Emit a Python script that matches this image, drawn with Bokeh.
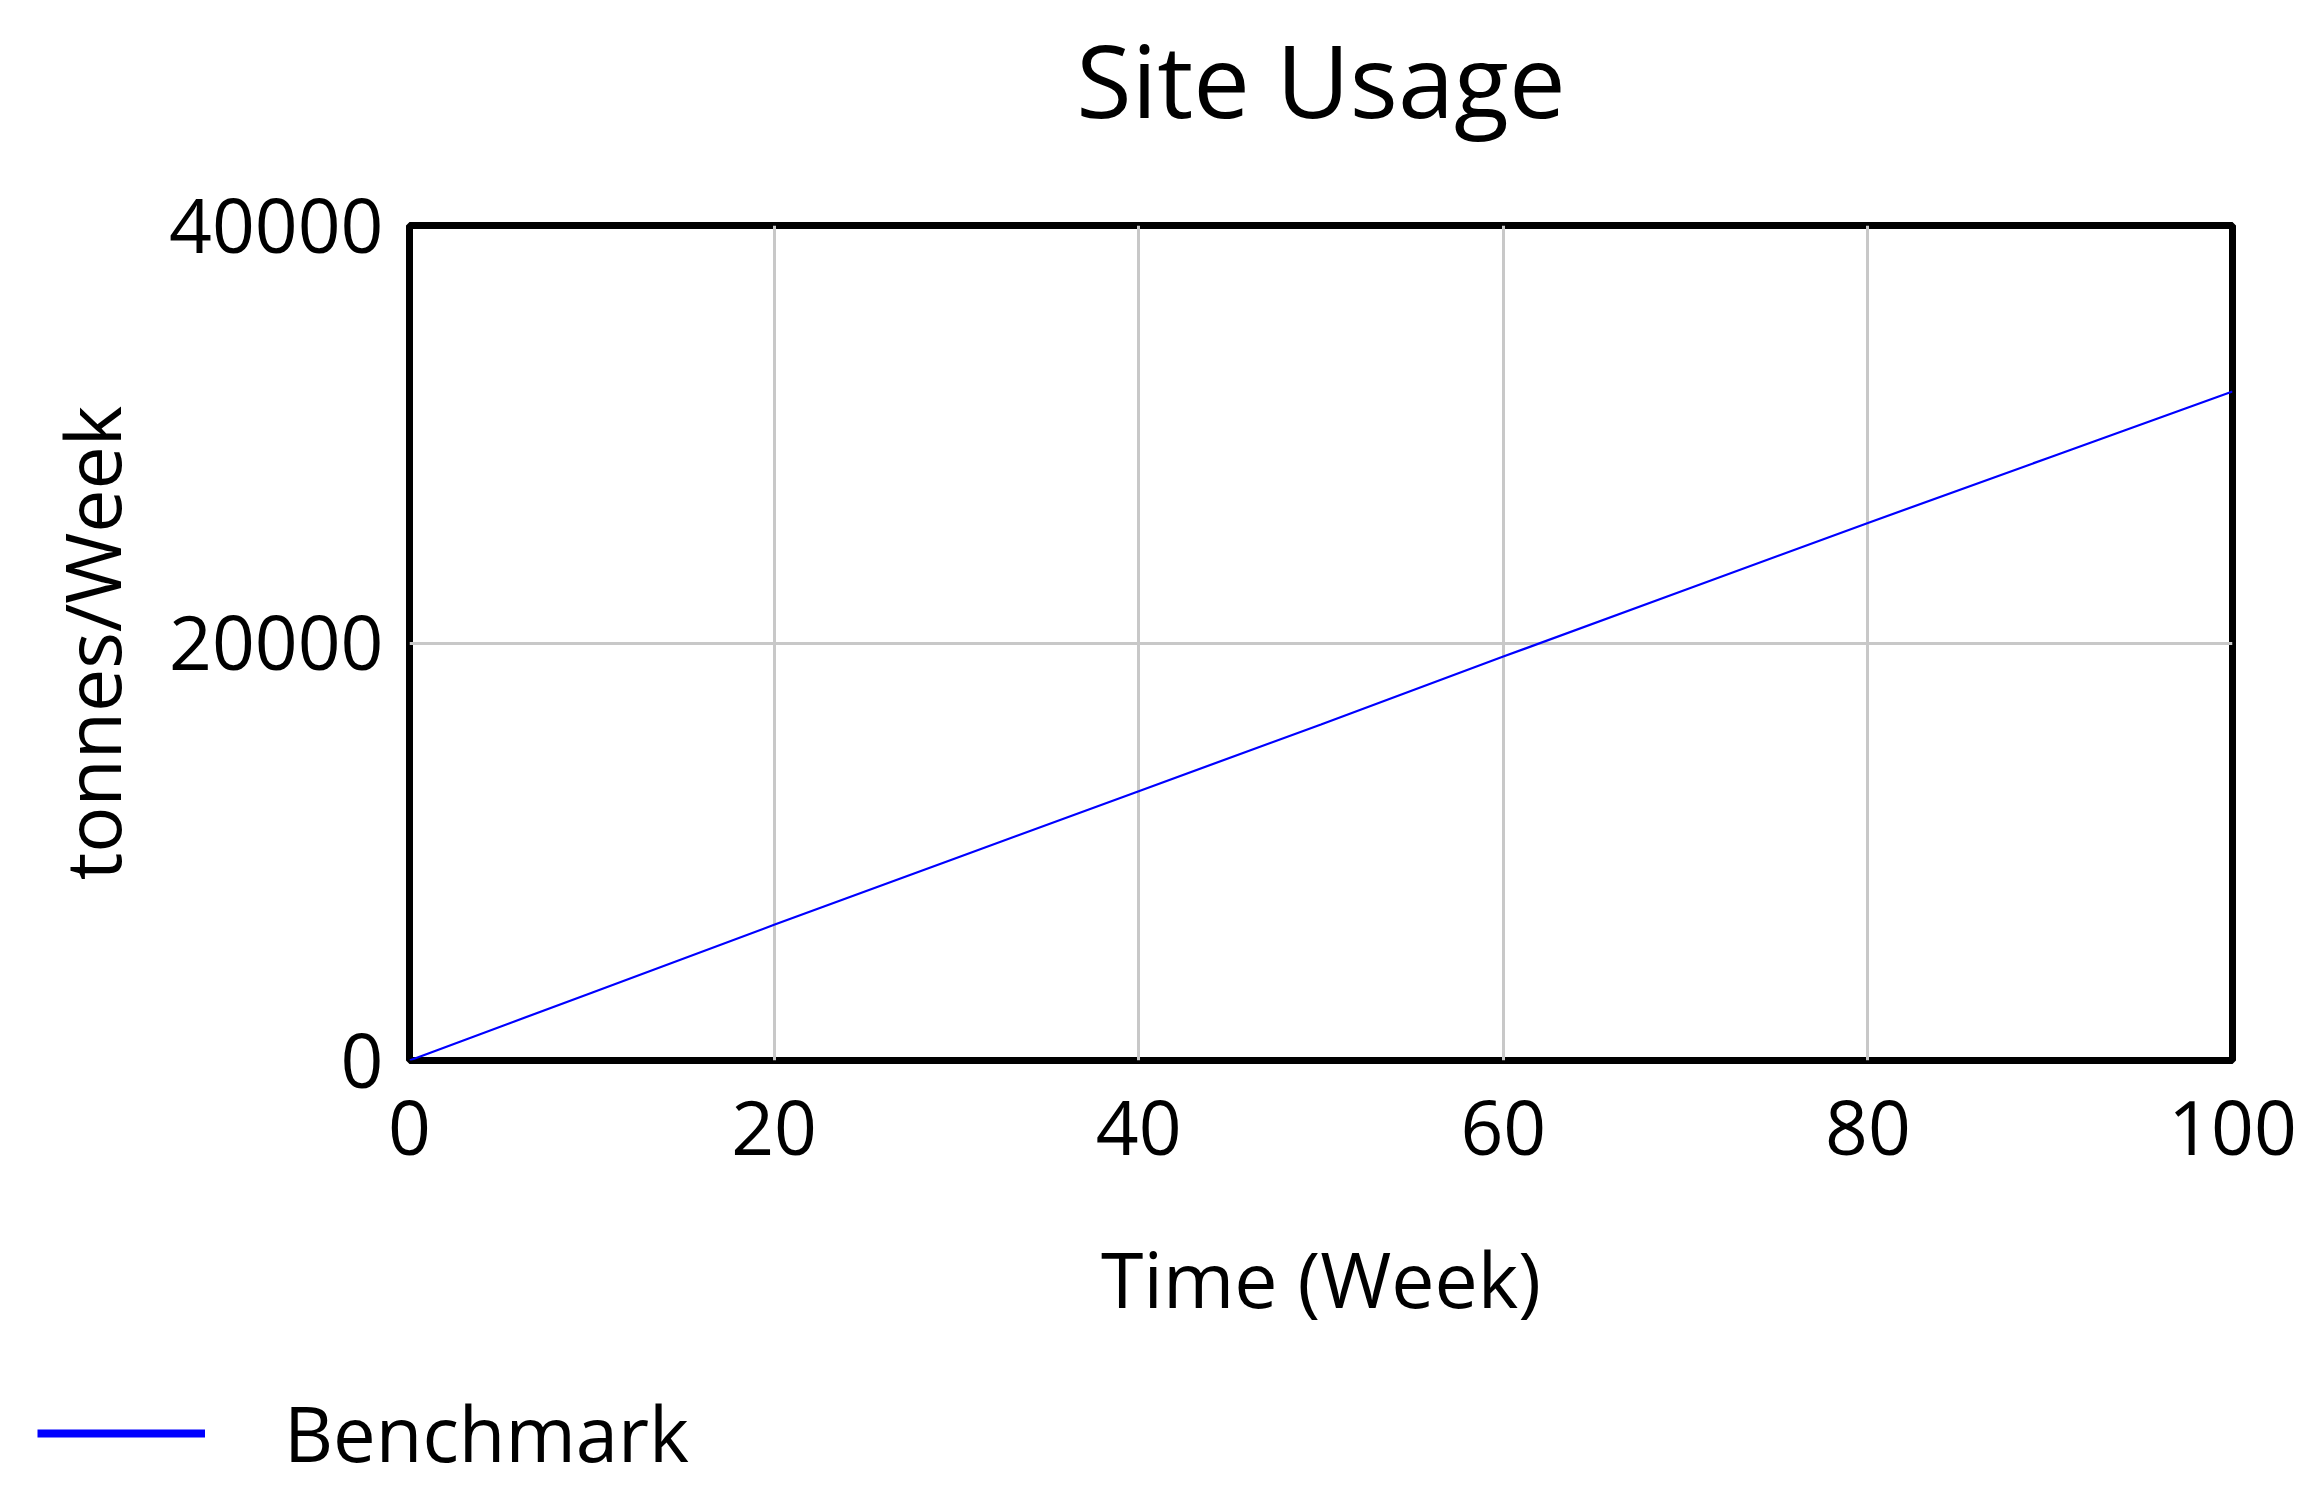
from bokeh.plotting import figure
from bokeh.models import Range1d, FixedTicker, Legend, LegendItem, Title
from bokeh.embed import file_html
from bokeh.resources import INLINE

weeks = [0, 10, 20, 30, 40, 50, 60, 70, 80, 90, 100]
usage = [0, 3250, 6500, 9700, 12900, 16100, 19350, 22550, 25750, 28900, 32050]
x_ticks = [0, 20, 40, 60, 80, 100]
y_ticks = [0, 20000, 40000]
series_name = "Benchmark"
chart_title = "Site Usage"

FONT = "Open Sans"
LINE_COLOR = "#0000ff"

p = figure(width=2312, height=1375, output_backend="svg", toolbar_location=None,
           x_range=Range1d(0, 100), y_range=Range1d(0, 40000), title=None,
           min_border_left=409, min_border_right=80, min_border_top=225, min_border_bottom=315)

# spacer title (closest to frame) to lift the real title
spacer = Title(text=" ", text_font_size="1px", standoff=75)
p.add_layout(spacer, "above")
t = Title(text=chart_title, text_font=FONT, text_font_size="101px", text_font_style="normal",
          text_color="black", align="center", standoff=0)
p.add_layout(t, "above")

p.outline_line_color = "black"
p.outline_line_width = 7

r = p.line(weeks, usage, line_color=LINE_COLOR, line_width=2.2)

for ax in (p.xaxis[0], p.yaxis[0]):
    ax.axis_line_color = None
    ax.major_tick_line_color = None
    ax.minor_tick_line_color = None
    ax.major_tick_out = 0
    ax.major_tick_in = 0
    ax.minor_tick_out = 0
    ax.major_label_text_font = FONT
    ax.major_label_text_font_size = "75px"
    ax.major_label_text_color = "black"
    ax.axis_label_text_font = FONT
    ax.axis_label_text_font_size = "77px"
    ax.axis_label_text_font_style = "normal"
    ax.axis_label_text_color = "black"

p.xaxis.ticker = FixedTicker(ticks=x_ticks)
p.yaxis.ticker = FixedTicker(ticks=y_ticks)
p.xaxis.axis_label = "Time (Week)"
p.yaxis.axis_label = "tonnes/Week"
p.xaxis.major_label_standoff = 40
p.xaxis.axis_label_standoff = 68
p.yaxis.major_label_standoff = 26
p.yaxis.axis_label_standoff = 22
p.yaxis.major_label_orientation = "horizontal"

p.xgrid.grid_line_color = "#c8c8c8"
p.xgrid.grid_line_width = 3
p.ygrid.grid_line_color = "#c8c8c8"
p.ygrid.grid_line_width = 3

# legend strip below the chart (separate root, so its frame spans the full width)
p2 = figure(width=2312, height=120, output_backend="svg", toolbar_location=None,
            x_range=Range1d(-2, -1), y_range=Range1d(-2, -1), title=None,
            x_axis_location=None, y_axis_location=None, min_border=0)
p2.grid.visible = False
p2.outline_line_color = None
r2 = p2.line(weeks, usage, line_color=LINE_COLOR, line_width=8)

legend = Legend(items=[LegendItem(label=series_name, renderers=[r2])], location=(37, 11))
legend.border_line_color = None
legend.background_fill_alpha = 0
legend.glyph_width = 168
legend.glyph_height = 60
legend.label_standoff = 79
legend.label_text_font = FONT
legend.label_text_font_size = "76px"
legend.label_text_color = "black"
legend.padding = 0
legend.margin = 0
legend.spacing = 0
p2.add_layout(legend, "center")

open("out.html", "w").write(file_html([p, p2], INLINE))
